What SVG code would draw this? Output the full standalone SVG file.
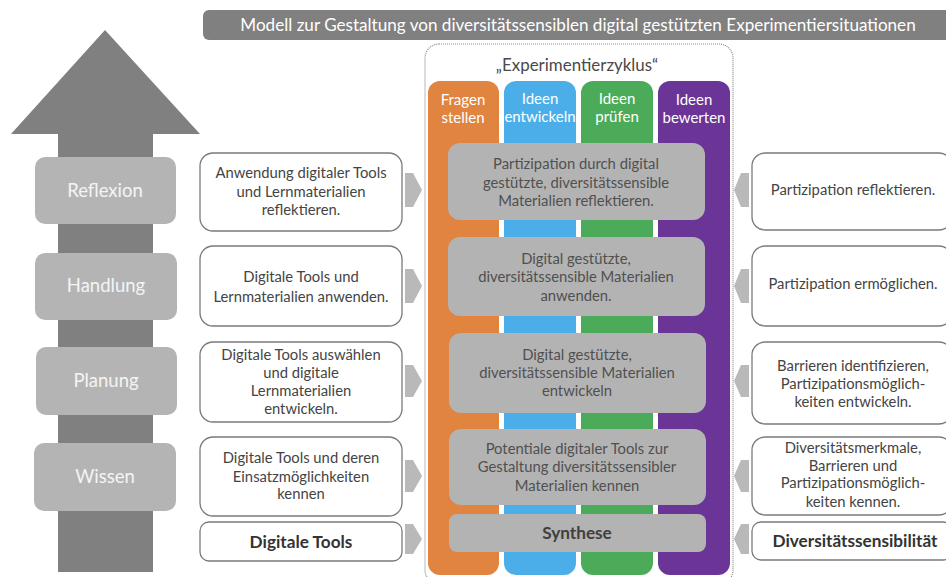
<svg xmlns="http://www.w3.org/2000/svg" width="946" height="577" viewBox="0 0 946 577">
  <defs>
    <style>
      text { font-family: Lato, "Open Sans", "Liberation Sans", sans-serif; text-anchor: middle; }
      .stage rect { fill: #b4b4b4; }
      .stage text { fill: #f4f4f4; font-size: 18.5px; }
      .side rect { fill: #ffffff; stroke: #7a7a7a; stroke-width: 1.3; }
      .side text { fill: #444444; font-size: 14.8px; }
      .side text.bold { font-weight: bold; fill: #333333; font-size: 17.2px; }
      .core rect { fill: #b3b3b3; }
      .core text { fill: #505050; font-size: 14.8px; }
      .core text.bold { font-weight: bold; fill: #404040; font-size: 17.2px; }
      .col text { fill: #ffffff; font-size: 15px; }
      .chev { fill: #b9b9b9; }
    </style>
  </defs>

  <!-- big upward arrow -->
  <g id="progress-arrow">
    <polygon points="105,30 200,134 153,134 153,572 58,572 58,134 11,134" fill="#808080"/>
  </g>

  <!-- title bar -->
  <g id="title">
    <rect x="203" y="10" width="760" height="30" rx="6" fill="#808080"/>
    <text x="578" y="31" fill="#ffffff" font-size="17.1">Modell zur Gestaltung von diversitätssensiblen digital gestützten Experimentiersituationen</text>
  </g>

  <!-- stages on the arrow -->
  <g id="stage-reflexion" class="stage"><rect x="35" y="157" width="141" height="67" rx="10"/><text x="105" y="197">Reflexion</text></g>
  <g id="stage-handlung" class="stage"><rect x="35" y="253" width="142" height="67" rx="10"/><text x="106" y="292">Handlung</text></g>
  <g id="stage-planung" class="stage"><rect x="36" y="347" width="141" height="68" rx="10"/><text x="106" y="387">Planung</text></g>
  <g id="stage-wissen" class="stage"><rect x="34" y="443" width="142" height="68" rx="10"/><text x="105" y="483">Wissen</text></g>

  <!-- experiment cycle frame -->
  <g id="cycle-frame">
    <rect x="425" y="44" width="308" height="540" rx="14" fill="none" stroke="#8a8a8a" stroke-width="1.2" stroke-dasharray="1 1"/>
    <text x="577" y="71" fill="#4a4a4a" font-size="16.9">„Experimentierzyklus“</text>
  </g>

  <!-- cycle columns -->
  <g id="col-fragen" class="col"><rect x="428" y="81" width="71" height="494" rx="12" fill="#e0843f"/><text x="463" y="105">Fragen</text><text x="463" y="123">stellen</text></g>
  <g id="col-entwickeln" class="col"><rect x="504" y="81" width="72" height="494" rx="12" fill="#4baee8"/><text x="540" y="104">Ideen</text><text x="540" y="122">entwickeln</text></g>
  <g id="col-pruefen" class="col"><rect x="581" y="81" width="72" height="494" rx="12" fill="#4cab59"/><text x="617" y="104">Ideen</text><text x="617" y="122">prüfen</text></g>
  <g id="col-bewerten" class="col"><rect x="658" y="81" width="72" height="494" rx="12" fill="#6a3597"/><text x="694" y="105">Ideen</text><text x="694" y="123">bewerten</text></g>

  <!-- core boxes across the columns -->
  <g id="core-reflexion" class="core"><rect x="448" y="143" width="257" height="77" rx="12"/>
    <text x="576" y="169">Partizipation durch digital</text><text x="576" y="188">gestützte, diversitätssensible</text><text x="576" y="206">Materialien reflektieren.</text></g>
  <g id="core-handlung" class="core"><rect x="448" y="237" width="257" height="79" rx="12"/>
    <text x="576" y="264">Digital gestützte,</text><text x="576" y="282">diversitätssensible Materialien</text><text x="576" y="301">anwenden.</text></g>
  <g id="core-planung" class="core"><rect x="449" y="333" width="257" height="80" rx="12"/>
    <text x="577" y="360">Digital gestützte,</text><text x="577" y="378">diversitätssensible Materialien</text><text x="577" y="396">entwickeln</text></g>
  <g id="core-wissen" class="core"><rect x="449" y="429" width="257" height="76" rx="12"/>
    <text x="577" y="454">Potentiale digitaler Tools zur</text><text x="577" y="472">Gestaltung diversitätssensibler</text><text x="577" y="491">Materialien kennen</text></g>
  <g id="core-synthese" class="core"><rect x="449" y="514" width="257" height="38" rx="8"/>
    <text class="bold" x="577" y="539">Synthese</text></g>

  <!-- left column: digital tools -->
  <g id="tools-reflexion" class="side"><rect x="200" y="153" width="202" height="78" rx="13"/>
    <text x="301" y="178">Anwendung digitaler Tools</text><text x="301" y="197">und Lernmaterialien</text><text x="301" y="215">reflektieren.</text></g>
  <g id="tools-handlung" class="side"><rect x="200" y="246" width="202" height="80" rx="13"/>
    <text x="301" y="282">Digitale Tools und</text><text x="301" y="302">Lernmaterialien anwenden.</text></g>
  <g id="tools-planung" class="side"><rect x="200" y="342" width="202" height="80" rx="13"/>
    <text x="301" y="360">Digitale Tools auswählen</text><text x="301" y="378">und digitale</text><text x="301" y="396">Lernmaterialien</text><text x="301" y="414">entwickeln.</text></g>
  <g id="tools-wissen" class="side"><rect x="200" y="437" width="202" height="79" rx="13"/>
    <text x="301" y="463">Digitale Tools und deren</text><text x="301" y="482">Einsatzmöglichkeiten</text><text x="301" y="499">kennen</text></g>
  <g id="tools-base" class="side"><rect x="200" y="522" width="202" height="39" rx="9"/>
    <text class="bold" x="301" y="548">Digitale Tools</text></g>

  <!-- right column: diversity sensitivity -->
  <g id="div-reflexion" class="side"><rect x="752" y="153" width="200" height="77" rx="13"/>
    <text x="853" y="195">Partizipation reflektieren.</text></g>
  <g id="div-handlung" class="side"><rect x="752" y="246" width="200" height="80" rx="13"/>
    <text x="853" y="289">Partizipation ermöglichen.</text></g>
  <g id="div-planung" class="side"><rect x="752" y="342" width="200" height="82" rx="13"/>
    <text x="853" y="371">Barrieren identifizieren,</text><text x="853" y="389">Partizipationsmöglich-</text><text x="853" y="407">keiten entwickeln.</text></g>
  <g id="div-wissen" class="side"><rect x="752" y="437" width="200" height="78" rx="13"/>
    <text x="853" y="453">Diversitätsmerkmale,</text><text x="853" y="471">Barrieren und</text><text x="853" y="488">Partizipationsmöglich-</text><text x="853" y="507">keiten kennen.</text></g>
  <g id="div-base" class="side"><rect x="752" y="522" width="200" height="38" rx="9"/>
    <text class="bold" x="855" y="547">Diversitätssensibilität</text></g>

  <!-- connectors: chevrons into the cycle -->
  <g id="connectors">
    <polygon class="chev" points="405,173 413,173 422,190 413,207 405,207"/>
    <polygon class="chev" points="405,269 413,269 422,286 413,303 405,303"/>
    <polygon class="chev" points="405,365 413,365 422,381 413,397 405,397"/>
    <polygon class="chev" points="405,460 413,460 422,476 413,492 405,492"/>
    <polygon class="chev" points="405,524 413,524 422,539 413,554 405,554"/>
    <polygon class="chev" points="749,173 741,173 734,190 741,207 749,207"/>
    <polygon class="chev" points="749,269 741,269 734,286 741,303 749,303"/>
    <polygon class="chev" points="749,365 741,365 734,381 741,397 749,397"/>
    <polygon class="chev" points="749,460 741,460 734,476 741,492 749,492"/>
    <polygon class="chev" points="749,524 741,524 734,539 741,554 749,554"/>
  </g>
</svg>
